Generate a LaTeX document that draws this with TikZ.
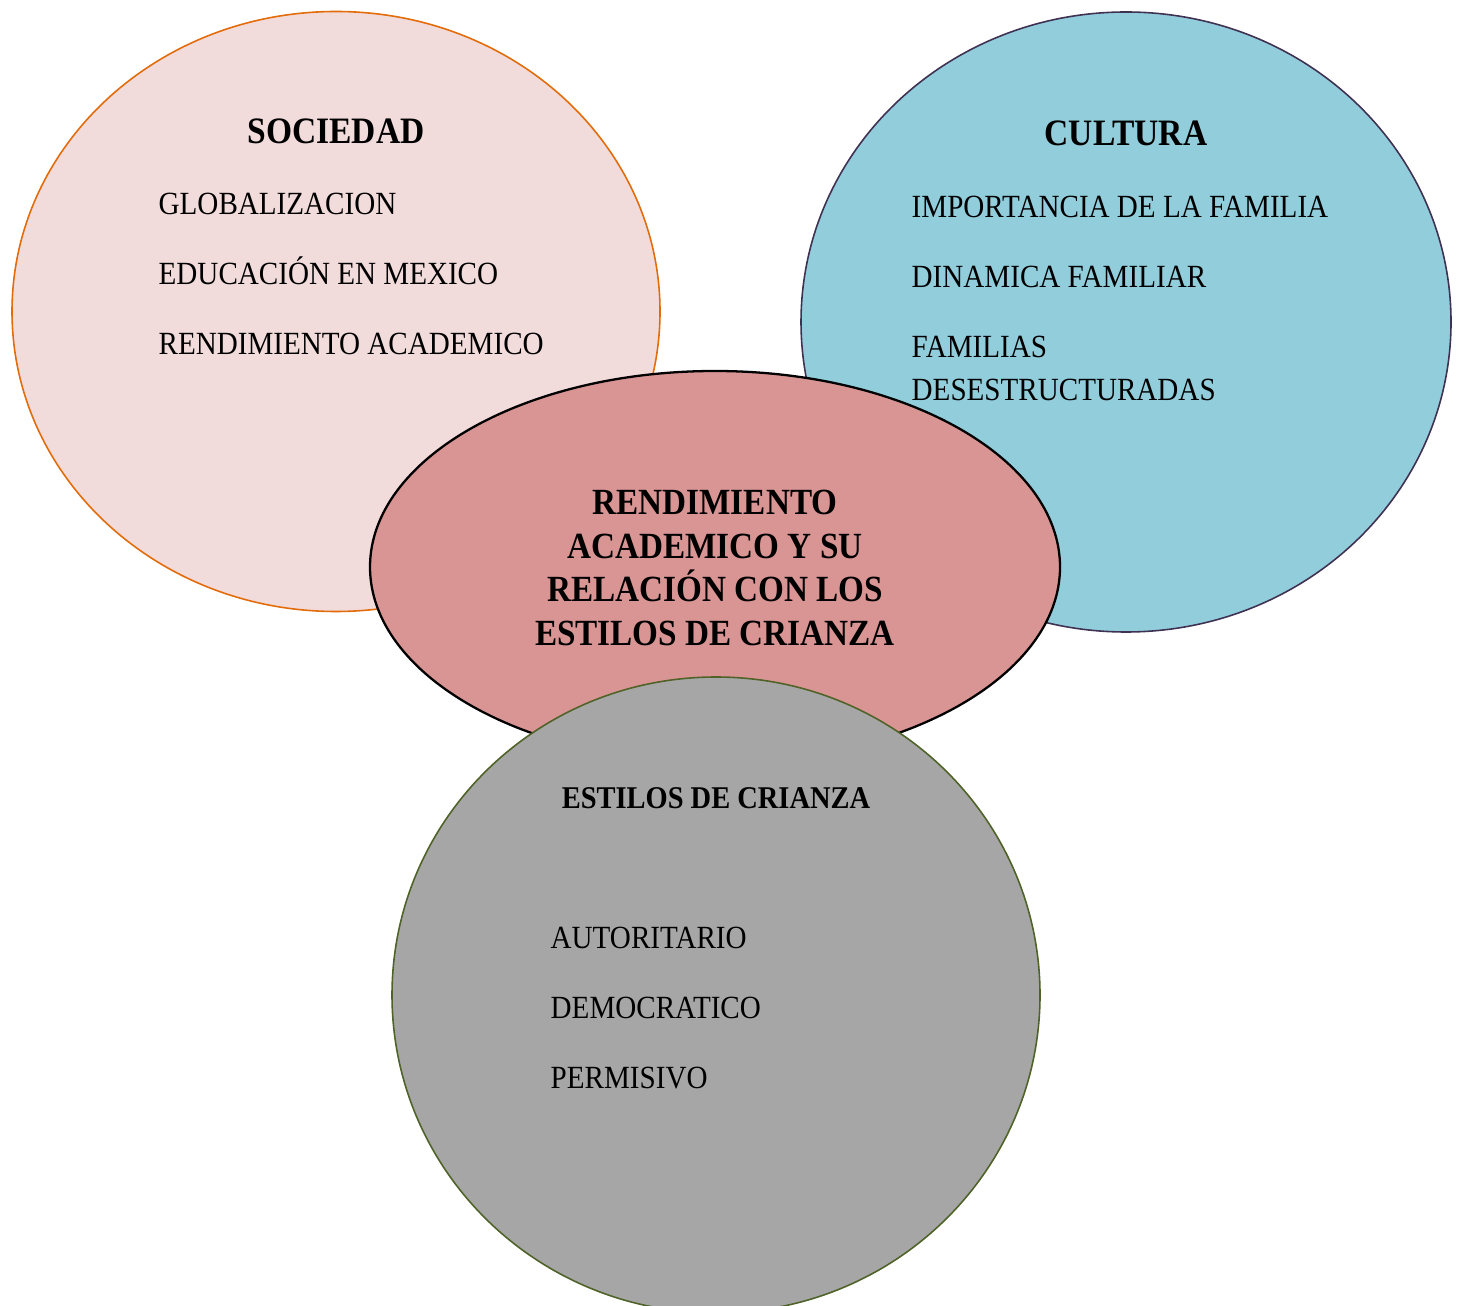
\documentclass[tikz,border=0pt]{standalone}
\usepackage{fontspec}
\setmainfont{Liberation Serif}[FakeStretch=0.9]
\usepackage{tikz}
\usetikzlibrary{shapes.geometric, positioning}

\definecolor{socfill}{HTML}{F2DBDB}
\definecolor{socline}{HTML}{E36C0A}
\definecolor{culfill}{HTML}{92CDDC}
\definecolor{culline}{HTML}{3F3151}
\definecolor{relfill}{HTML}{D99594}
\definecolor{estfill}{HTML}{A6A6A6}
\definecolor{estline}{HTML}{4F6228}

\begin{document}
\begin{tikzpicture}[
  bubble/.style={ellipse, inner sep=0pt, line width=0.45pt},
  titulo/.style={font=\fontsize{10.6}{12.4}\selectfont\bfseries, inner sep=0pt, anchor=base},
  tema/.style={font=\fontsize{9.2}{12.4}\selectfont, inner sep=0pt, anchor=base west},
]
\useasboundingbox (0,0) rectangle (14.59,-13.06);

% Bubbles
\node[bubble, draw=socline, fill=socfill, minimum width=6.48cm, minimum height=6.0cm] (sociedad) at (3.36,-3.115) {};
\node[bubble, draw=culline, fill=culfill, minimum width=6.50cm, minimum height=6.2cm] (cultura) at (11.26,-3.22) {};
\node[bubble, draw=black, fill=relfill, line width=0.65pt, minimum width=6.90cm, minimum height=3.92cm] (centro) at (7.15,-5.67) {};
\node[bubble, draw=estline, fill=estfill, minimum width=6.48cm, minimum height=6.36cm] (estilos) at (7.16,-9.95) {};

% Sociedad
\node[titulo] (t_soc) at (3.36,-1.435) {SOCIEDAD};
\node[tema] (s_glob) at (1.58,-2.15) {GLOBALIZACION};
\node[tema] (s_edu) at (1.58,-2.85) {EDUCACIÓN EN MEXICO};
\node[tema] (s_rend) at (1.58,-3.55) {RENDIMIENTO ACADEMICO};

% Cultura
\node[titulo] (t_cul) at (11.26,-1.46) {CULTURA};
\node[tema] (c_imp) at (9.11,-2.18) {IMPORTANCIA DE LA FAMILIA};
\node[tema] (c_din) at (9.11,-2.88) {DINAMICA FAMILIAR};
\node[tema, align=left] (c_fam) at (9.11,-4.01) {FAMILIAS\\DESESTRUCTURADAS};

% Centro
\node[font=\fontsize{10.5}{12.4}\selectfont\bfseries, align=center, inner sep=0pt] (t_centro) at (7.15,-5.68)
  {RENDIMIENTO\\ACADEMICO Y SU\\RELACIÓN CON LOS\\ESTILOS DE CRIANZA};

% Estilos de crianza
\node[titulo, font=\fontsize{9.0}{12.4}\selectfont\bfseries] (t_est) at (7.16,-8.08) {ESTILOS DE CRIANZA};
\node[tema] (e_aut) at (5.50,-9.48) {AUTORITARIO};
\node[tema] (e_dem) at (5.50,-10.18) {DEMOCRATICO};
\node[tema] (e_per) at (5.50,-10.88) {PERMISIVO};

\end{tikzpicture}
\end{document}
